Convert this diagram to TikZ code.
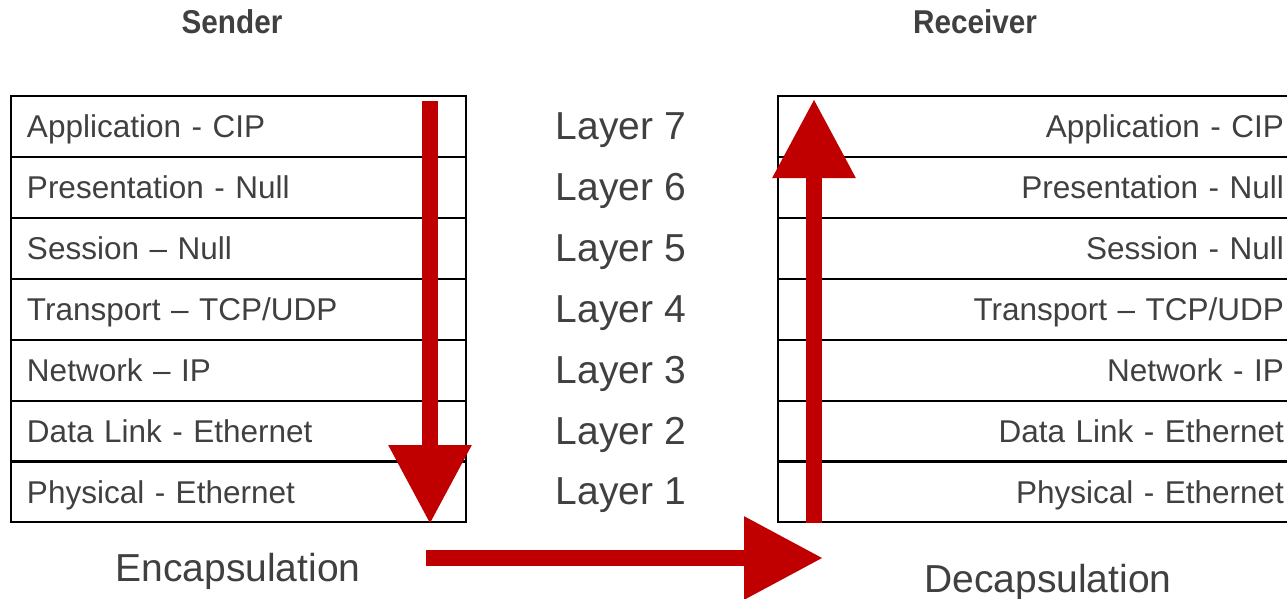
\documentclass[tikz,border=0pt]{standalone}
\usepackage{fontspec}
\setmainfont{Liberation Sans}
\newfontfamily\titlefont[FakeStretch=0.9]{Liberation Sans}
\usetikzlibrary{arrows.meta}
\definecolor{txt}{HTML}{404040}
\definecolor{arrowred}{HTML}{C00000}
\begin{document}
\begin{tikzpicture}[x=1pt,y=-1pt,
  rowbox/.style={draw=black,line width=2pt,minimum height=61pt,inner ysep=0pt,
    font=\fontsize{31.5}{36}\selectfont,text=txt,text depth=0pt},
  leftrow/.style={rowbox,anchor=north west,text width=423pt,inner xsep=16pt,align=left},
  rightrow/.style={rowbox,anchor=north west,text width=489pt,inner xsep=17pt,align=right},
  layerlbl/.style={font=\fontsize{39}{44}\selectfont,text=txt,text depth=0pt},
  title/.style={font=\titlefont\bfseries\fontsize{33}{38}\selectfont,text=txt},
  bigarrow/.style={draw=arrowred,line width=16pt,
    -{Triangle[width=79pt,length=79pt,fill=arrowred]}}]
\clip (0,0) rectangle (1287,598);
\useasboundingbox (0,0) rectangle (1287,598);

\node[title] (sender) at (232,22) {Sender};
\node[title] (receiver) at (975,22) {Receiver};

% sender stack
\foreach \i/\t [count=\k from 0] in {1/{Application - CIP},2/{Presentation - Null},3/{Session – Null},
    4/{Transport – TCP/UDP},5/{Network – IP},6/{Data Link - Ethernet},7/{Physical - Ethernet}}
  \node[leftrow] (s\i) at (10,95+60.9*\k) {\t};

% receiver stack
\foreach \i/\t [count=\k from 0] in {1/{Application - CIP},2/{Presentation - Null},3/{Session - Null},
    4/{Transport – TCP/UDP},5/{Network - IP},6/{Data Link - Ethernet},7/{Physical - Ethernet}}
  \node[rightrow] (r\i) at (777,95+60.9*\k) {\t};

% layer numbers
\foreach \i [count=\k from 0] in {7,6,5,4,3,2,1}
  \node[layerlbl] (l\i) at (621,126+60.9*\k) {Layer \i};

\node[layerlbl] (encap) at (238,567) {Encapsulation};
\node[layerlbl] (decap) at (1048,578) {Decapsulation};

% arrows
\coordinate (dtop) at (430,101);
\coordinate (dbot) at (430,524);
\coordinate (htail) at (426,558);
\coordinate (hhead) at (823,558);
\coordinate (utail) at (814,523);
\coordinate (uhead) at (814,99);
\draw[bigarrow] (dtop) -- (dbot);
\draw[bigarrow] (htail) -- (hhead);
\draw[bigarrow] (utail) -- (uhead);
\end{tikzpicture}
\end{document}
